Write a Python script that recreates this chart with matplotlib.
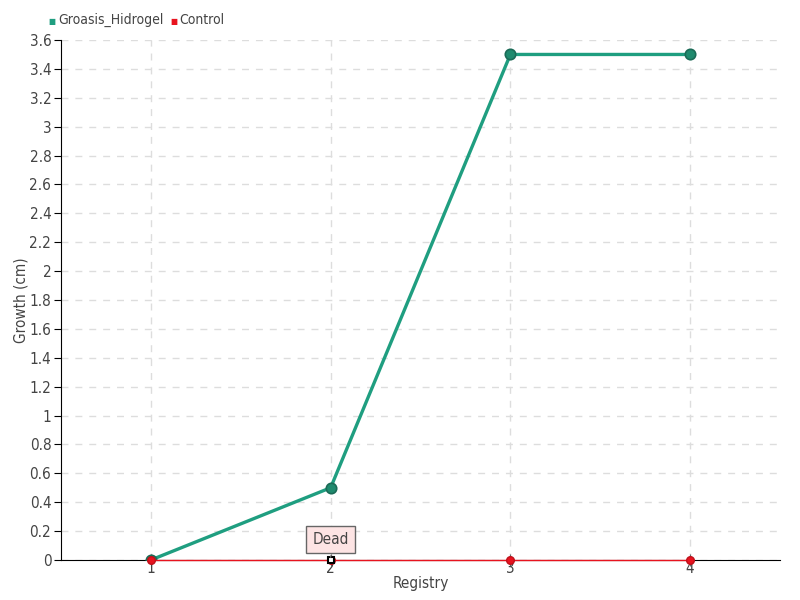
import matplotlib.pyplot as plt

plt.rcParams['font.family'] = ['DejaVu Sans']
plt.rcParams['font.stretch'] = 'condensed'

registry = [1, 2, 3, 4]
groasis = [0, 0.5, 3.5, 3.5]
control = [0, 0, 0, 0]
y_ticks = [round(0.2 * i, 1) for i in range(19)]
y_labels = ['0', '0.2', '0.4', '0.6', '0.8', '1', '1.2', '1.4', '1.6', '1.8',
            '2', '2.2', '2.4', '2.6', '2.8', '3', '3.2', '3.4', '3.6']

green = '#1f9e80'
red = '#e8131f'
text_col = '#444444'

fig = plt.figure(figsize=(8, 6), dpi=100)
ax = fig.add_axes([0.07625, 0.0667, 0.89875, 0.8666])

ax.plot(registry, groasis, color=green, lw=2.4, marker='o', ms=7.5,
        mfc='#1f8a6e', mec='#1b6b57', mew=1.2, zorder=3, solid_capstyle='round')
ax.plot(registry, control, color=red, lw=1, marker='o', ms=5.5,
        mfc=red, mec='#c0101a', zorder=4, clip_on=False)
# highlighted point
ax.plot(registry[1], control[1], marker='s', ms=5, mfc='white', mec='black',
        mew=1.5, zorder=5, clip_on=False)

ax.annotate('Dead', xy=(registry[1], control[1]), xytext=(0, 15),
            textcoords='offset points', ha='center', va='center',
            fontsize=11, color=text_col,
            bbox=dict(boxstyle='square,pad=0.4', fc='#fde4e4', ec='#666666', lw=1),
            arrowprops=dict(arrowstyle='-', color='#666666', lw=1), zorder=6)

ax.set_xlim(0.5, 4.5)
ax.set_ylim(0, 3.6)
ax.set_xticks(registry)
ax.set_xticklabels([str(r) for r in registry])
ax.set_yticks(y_ticks)
ax.set_yticklabels(y_labels)

ax.grid(True, color='#dddddd', ls=(0, (5, 5)), lw=1)
ax.set_axisbelow(True)
for s in ['top', 'right']:
    ax.spines[s].set_visible(False)
ax.spines['left'].set_color('black')
ax.spines['bottom'].set_color('black')
ax.tick_params(axis='y', length=5, colors=text_col, labelsize=11, pad=2)
ax.tick_params(axis='x', length=8, colors=text_col, labelsize=11, pad=-3,
               direction='inout')
ax.tick_params(axis='y', color='black')
ax.tick_params(axis='x', color='#666666')

ax.set_xlabel('Registry', fontsize=11, color=text_col, labelpad=0)
ax.set_ylabel('Growth (cm)', fontsize=11, color=text_col, labelpad=1)

# legend
fig.text(0.061, 0.964, '\u25a0', color=green, fontsize=6, va='center')
fig.text(0.073, 0.966, 'Groasis_Hidrogel', color=text_col, fontsize=10, va='center')
fig.text(0.2125, 0.964, '\u25a0', color=red, fontsize=6, va='center')
fig.text(0.224, 0.966, 'Control', color=text_col, fontsize=10, va='center')

fig.savefig('out.png', dpi=100)
